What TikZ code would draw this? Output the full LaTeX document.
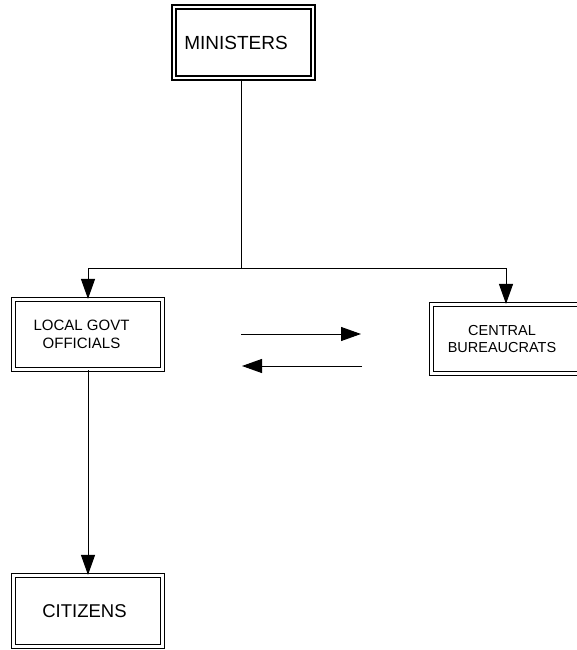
\documentclass[tikz,border=0pt]{standalone}
\usepackage{fontspec}
\setmainfont{Liberation Sans}
\usetikzlibrary{arrows.meta}
\tikzset{every node/.append style={font=\fontsize{15}{18}\selectfont}}

\begin{document}
\begin{tikzpicture}[x=1pt, y=-1pt, line width=1pt, >={Triangle[length=20pt,width=14pt]},
    govbox/.style={draw, double, double distance=3pt, line width=1.1pt,
      minimum width=149pt, minimum height=70pt, inner sep=0pt, align=center}]
    \useasboundingbox (0,0) rectangle (576,650);
    % boxes (text sits a little left of centre)
    \node[govbox, line width=1.7pt, double distance=2.5pt, minimum width=139pt,
      minimum height=71pt, font=\fontsize{19}{22}\selectfont] (ministers) at (243.5,42.5) {MINISTERS\hspace*{15pt}};
    \node[govbox] (local) at (88,334.5) {LOCAL GOVT\hspace*{13pt}\\OFFICIALS\hspace*{13pt}};
    \node[govbox, minimum height=69pt, font=\fontsize{14.5}{17}\selectfont] (central) at (506,339) {CENTRAL\hspace*{8pt}\\BUREAUCRATS\hspace*{8pt}};
    \node[govbox, minimum height=71pt, font=\fontsize{18.5}{22}\selectfont] (citizens) at (88,611) {CITIZENS\hspace*{7pt}};
    % tree connectors
    \coordinate (split) at (241,268);
    \draw (ministers.south -| split) -- (split);
    \draw[->] (split) -| (local.north);
    \draw[->] (split) -| (central.north);
    \draw[->] (local) -- (citizens);
    % exchange arrows
    \coordinate (fwdstart) at (241,334);
    \coordinate (fwdend) at (361,334);
    \coordinate (backstart) at (362,366);
    \coordinate (backend) at (242,366);
    \draw[->] (fwdstart) -- (fwdend);
    \draw[->] (backstart) -- (backend);
\end{tikzpicture}
\end{document}
